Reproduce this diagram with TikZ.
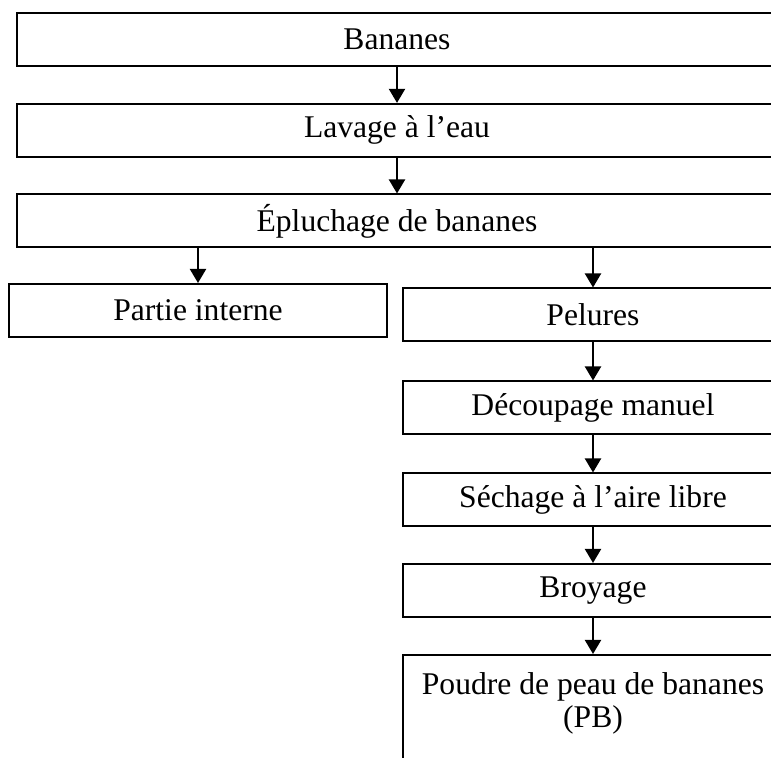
\documentclass[tikz,border=0pt]{standalone}
\usepackage{fontspec}
\setmainfont{Liberation Serif}
\usetikzlibrary{arrows.meta}
\begin{document}
\begin{tikzpicture}[x=0.5pt, y=-0.5pt,
        box/.style={draw, line width=1pt, inner sep=0pt, minimum height=26.5pt, font=\fontsize{15.8}{16.5}\selectfont},
        wide/.style={box, minimum width=380pt},
        flow/.style={line width=1pt, -{Triangle[width=8pt,length=7pt]}}]
        \clip (0, 0) rectangle (771, 758);

        \node[wide] (bananes) at (397, 39.2) {Bananes};
        \node[wide] (lavage) at (397, 130.4) {Lavage à l’eau};
        \node[wide] (epluchage) at (397, 221) {Épluchage de bananes};
        \node[box, minimum width=189pt] (interne) at (198, 310.5) {Partie interne};
        \node[box, minimum width=190pt] (pelures) at (593, 315) {Pelures};
        \node[box, minimum width=190pt] (decoupage) at (593, 408) {Découpage manuel};
        \node[box, minimum width=190pt] (sechage) at (593, 500) {Séchage à l’aire libre};
        \node[box, minimum width=190pt] (broyage) at (593, 590.5) {Broyage};
        \node[box, minimum width=190pt, minimum height=120pt, anchor=north] (poudre) at (593, 654) {};
        \node[align=center, font=\fontsize{15.8}{16.5}\selectfont] (pb) at (593, 703) {Poudre de peau de bananes\\(PB)};

        \draw[flow] (bananes) -- (lavage);
        \draw[flow] (lavage) -- (epluchage);
        \draw[flow] (epluchage.south -| interne.north) -- (interne.north);
        \draw[flow] (epluchage.south -| pelures.north) -- (pelures.north);
        \draw[flow] (pelures) -- (decoupage);
        \draw[flow] (decoupage) -- (sechage);
        \draw[flow] (sechage) -- (broyage);
        \draw[flow] (broyage) -- (poudre);

    \end{tikzpicture}
\end{document}
